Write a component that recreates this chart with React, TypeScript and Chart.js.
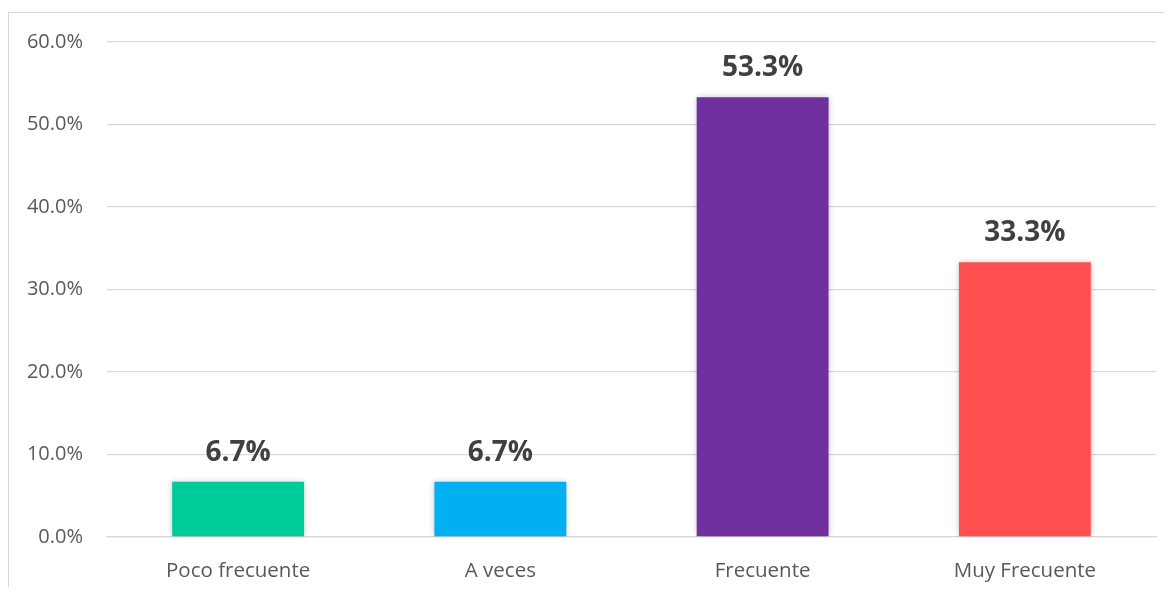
import React, { useEffect, useRef } from "react";
import { Chart, registerables } from "chart.js";

Chart.register(...registerables);

const categories = ["Poco frecuente", "A veces", "Frecuente", "Muy Frecuente"];
const values = [6.7, 6.7, 53.3, 33.3];
const barColors = ["#00CC99", "#00B0F0", "#7030A0", "#FF5050"];
const yTicks = [0, 10, 20, 30, 40, 50, 60];

const FONT = "'Open Sans', 'DejaVu Sans', sans-serif";

const shadowPlugin = {
  id: "barShadow",
  beforeDatasetsDraw(chart: any) {
    const ctx = chart.ctx;
    ctx.save();
    ctx.shadowColor = "rgba(0,0,0,0.22)";
    ctx.shadowBlur = 6;
    ctx.shadowOffsetX = 0;
    ctx.shadowOffsetY = 0;
  },
  afterDatasetsDraw(chart: any) {
    chart.ctx.restore();
  },
};

const labelPlugin = {
  id: "valueLabels",
  afterDatasetsDraw(chart: any) {
    const ctx = chart.ctx;
    const meta = chart.getDatasetMeta(0);
    ctx.save();
    ctx.font = `bold 28px ${FONT}`;
    ctx.fillStyle = "#404040";
    ctx.textAlign = "center";
    ctx.textBaseline = "middle";
    meta.data.forEach((bar: any, i: number) => {
      ctx.fillText(values[i].toFixed(1) + "%", bar.x, bar.y - 29);
    });
    ctx.restore();
  },
};

export default function App() {
  const ref = useRef<HTMLCanvasElement>(null);
  useEffect(() => {
    if (!ref.current) return;
    const chart = new Chart(ref.current, {
      type: "bar",
      data: {
        labels: categories,
        datasets: [
          {
            data: values,
            backgroundColor: barColors,
            borderWidth: 0,
            barPercentage: 0.503,
            categoryPercentage: 1,
          },
        ],
      },
      options: {
        animation: false,
        responsive: false,
        maintainAspectRatio: false,
        layout: { padding: { left: 0, right: 15, top: 29, bottom: 0 } },
        plugins: { legend: { display: false }, tooltip: { enabled: false } },
        scales: {
          x: {
            grid: { display: false, drawTicks: false },
            border: { display: true, color: "#d9d9d9", width: 1.3 },
            ticks: {
              color: "#595959",
              font: { family: FONT, size: 20.5 },
              padding: 22,
              maxRotation: 0,
            },
            afterFit(scale: any) {
              scale.height = 49;
            },
          },
          y: {
            min: 0,
            max: 60,
            afterBuildTicks(scale: any) {
              scale.ticks = yTicks.map((v) => ({ value: v }));
            },
            grid: {
              color: "#d9d9d9",
              lineWidth: 1.3,
              drawTicks: true,
              tickLength: 24,
              tickColor: "rgba(0,0,0,0)",
            },
            border: { display: false },
            ticks: {
              color: "#595959",
              font: { family: FONT, size: 20 },
              padding: 0,
              callback: (v: any) => Number(v).toFixed(1) + "%",
            },
            afterFit(scale: any) {
              scale.width = 98;
            },
          },
        },
      },
      plugins: [shadowPlugin, labelPlugin],
    });
    return () => chart.destroy();
  }, []);

  return (
    <div style={{ paddingTop: 4 }}>
      <div
        style={{
          borderLeft: "1.5px solid #d9d9d9",
          borderTop: "1.5px solid #d9d9d9",
          width: 1164,
          height: 575,
          boxSizing: "border-box",
        }}
      >
        <canvas ref={ref} width={1162} height={573} style={{ display: "block" }} />
      </div>
    </div>
  );
}
